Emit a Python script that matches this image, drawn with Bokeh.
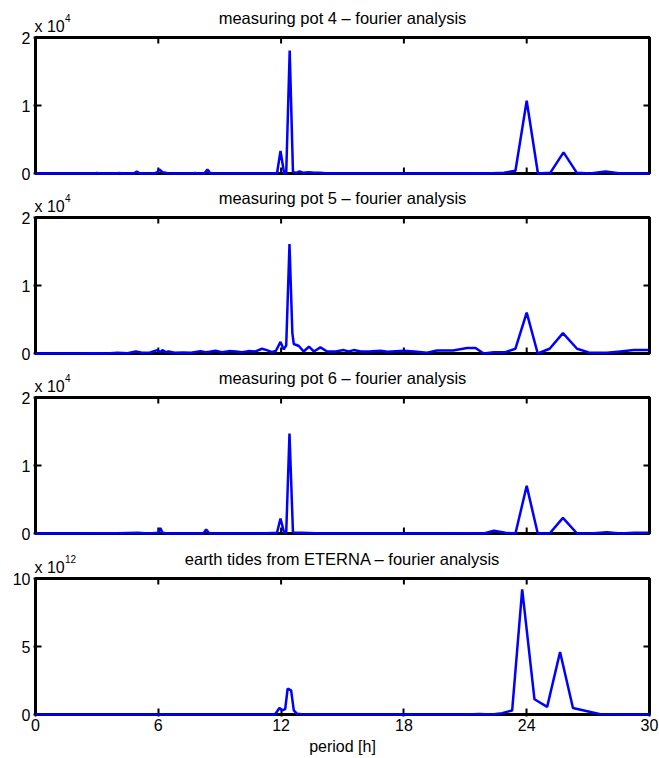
from bokeh.plotting import figure
from bokeh.layouts import column
from bokeh.models import LinearAxis, FixedTicker, Label, Range1d, BoxAnnotation
from bokeh.embed import file_html
from bokeh.resources import INLINE

FONT = "Liberation Sans"

# ---------------- data (period in hours, amplitude in displayed units) ----------------
x_pot4 = [0, 1.0, 2.0, 2.9, 3.0, 3.1, 4.0, 4.1, 4.2, 4.8, 4.95, 5.1, 5.8, 5.95, 6.05, 6.2,
          6.35, 6.5, 7.7, 7.8, 7.9, 8.25, 8.4, 8.55, 9.5, 10.5, 11.5, 11.8, 11.97, 12.15,
          12.25, 12.42, 12.58, 12.75, 12.9, 13.1, 13.35, 13.6, 13.9, 14.3, 15, 16, 17, 18,
          19, 20, 21, 22, 22.9, 23.45, 24.0, 24.55, 25.15, 25.8, 26.45, 27.1, 27.85, 28.6,
          29.3, 30]
y_pot4 = [0, 0, 0, 0, 0.01, 0, 0, 0.01, 0, 0, 0.03, 0, 0, 0.02, 0.06, 0.02,
          0.01, 0, 0, 0.01, 0, 0, 0.06, 0, 0, 0, 0, 0, 0.33, 0,
          0, 1.81, 0.02, 0.01, 0.03, 0.01, 0.02, 0.01, 0.01, 0, 0, 0, 0, 0,
          0, 0, 0.005, 0, 0.01, 0.04, 1.07, 0, 0.01, 0.31, 0.01, 0, 0.03, 0,
          0, 0]

x_pot5 = [0, 1, 2, 3.0, 3.5, 4.0, 4.5, 4.9, 5.2, 5.6, 5.95, 6.1, 6.2, 6.35, 6.5, 6.8, 7.2,
          7.6, 8.06, 8.3, 8.5, 8.8, 9.1, 9.45, 9.8, 10.1, 10.4, 10.75, 11.07, 11.3, 11.56,
          11.75, 11.97, 12.13, 12.25, 12.41, 12.55, 12.62, 12.87, 13.1, 13.36, 13.6, 13.92,
          14.25, 14.66, 15.06, 15.3, 15.55, 15.9, 16.3, 16.85, 17.2, 17.99, 18.5, 19.13,
          19.62, 20.4, 21.09, 21.5, 21.9, 22.39, 22.96, 23.45, 24.0, 24.54, 25.12, 25.77,
          26.46, 27.1, 27.93, 28.58, 29.23, 29.96]
y_pot5 = [0, 0, 0, 0.005, 0, 0.01, 0.005, 0.03, 0.01, 0.015, 0.05, 0.02, 0.05, 0.02, 0.03,
          0.01, 0.015, 0.01, 0.035, 0.02, 0.025, 0.04, 0.02, 0.035, 0.03, 0.02, 0.035, 0.03,
          0.07, 0.05, 0.02, 0.04, 0.17, 0.06, 0.12, 1.61, 0.3, 0.14, 0.11, 0.03, 0.1, 0.03,
          0.09, 0.03, 0.03, 0.05, 0.03, 0.05, 0.03, 0.03, 0.04, 0.025, 0.04, 0.03, 0.01,
          0.045, 0.045, 0.08, 0.08, 0.0, 0.02, 0.02, 0.07, 0.6, 0.0, 0.07, 0.3, 0.07, 0.01,
          0.01, 0.03, 0.05, 0.05]

x_pot6 = [0, 2, 3.0, 4.0, 5.0, 5.5, 6.0, 6.1, 6.2, 6.5, 8.2, 8.34, 8.5, 9.5, 11.0, 11.8,
          11.97, 12.15, 12.25, 12.41, 12.58, 13, 14, 16, 18, 20, 21, 21.5, 21.9, 22.4, 22.96,
          23.45, 24.0, 24.54, 25.12, 25.77, 26.46, 27.1, 27.93, 28.58, 29.23, 29.96]
y_pot6 = [0, 0, 0.005, 0.005, 0.01, 0, 0.01, 0.08, 0.01, 0, 0, 0.06, 0, 0, 0, 0.01,
          0.22, 0.01, 0.01, 1.47, 0.01, 0.01, 0, 0, 0, 0, 0.005, 0.005, 0.0, 0.04, 0.01,
          0.0, 0.7, 0.0, 0.0, 0.23, 0.0, 0.0, 0.02, 0, 0.01, 0.01]

x_eterna = [0, 4, 8, 11.0, 11.7, 11.92, 12.05, 12.2, 12.32, 12.49, 12.62, 12.78, 13.0, 14,
            18, 21, 21.7, 22.3, 22.8, 23.29, 23.78, 24.38, 25.0, 25.63, 26.26, 27.6, 28.5, 30]
y_eterna = [0, 0, 0, 0, 0.0, 0.48, 0.3, 0.4, 1.9, 1.78, 0.3, 0.05, 0.01, 0,
            0, 0, 0.03, 0.0, 0.1, 0.3, 9.2, 1.12, 0.56, 4.6, 0.48, 0.02, 0, 0]

titles = ["measuring pot 4 \u2013 fourier analysis",
          "measuring pot 5 \u2013 fourier analysis",
          "measuring pot 6 \u2013 fourier analysis",
          "earth tides from ETERNA \u2013 fourier analysis"]
exponents = ["4", "4", "4", "12"]
y_ticks = [[0, 1, 2], [0, 1, 2], [0, 1, 2], [0, 5, 10]]
y_max = [2, 2, 2, 10]
x_ticks = [0, 6, 12, 18, 24, 30]
x_label = "period [h]"
series = [(x_pot4, y_pot4), (x_pot5, y_pot5), (x_pot6, y_pot6), (x_eterna, y_eterna)]

# ---------------- layout (pixels) ----------------
BOX_W = 614          # data box width
BOX_H = 136          # data box height
PAD = 2              # frame extends this far beyond the box (left/right/bottom)
TICK = 6             # inward tick length
X_MAX = 30
TOP_SPACE = [37, 33, 33, 34]     # canvas top -> box top (title area lives inside frame)
FIG_H = [184, 180, 180, 214]


def make_panel(i):
    bottom = (i == 3)
    ym = y_max[i]
    px_x = X_MAX / BOX_W
    px_y = ym / BOX_H
    T = TOP_SPACE[i]
    frame_h = T + BOX_H + PAD
    bot_b = FIG_H[i] - frame_h
    p = figure(width=659, height=FIG_H[i],
               x_range=Range1d(-PAD * px_x, X_MAX + PAD * px_x),
               y_range=Range1d(-PAD * px_y, ym + T * px_y),
               x_axis_type=None, y_axis_type=None,
               output_backend="svg", toolbar_location=None,
               min_border_left=35 - PAD, min_border_right=10 - PAD,
               min_border_top=0, min_border_bottom=bot_b)
    p.background_fill_color = "white"
    p.border_fill_color = "white"
    p.outline_line_color = None

    def axis(ticks, standoff):
        return LinearAxis(ticker=FixedTicker(ticks=ticks, minor_ticks=[]),
                          axis_line_color=None,
                          major_tick_in=TICK + PAD, major_tick_out=0,
                          major_tick_line_color="black", major_tick_line_width=2,
                          minor_tick_line_color=None,
                          major_label_text_font=FONT,
                          major_label_text_color="black",
                          major_label_text_font_size="16px",
                          major_label_standoff=standoff)

    nx = len(x_ticks)
    ny = len(y_ticks[i])
    if bottom:
        xb = axis(x_ticks, 2)
        xb.axis_label = x_label
        xb.axis_label_text_font = FONT
        xb.axis_label_text_font_size = "16px"
        xb.axis_label_text_font_style = "normal"
        xb.axis_label_text_color = "black"
        xb.axis_label_standoff = 4
        p.add_layout(xb, "below")
    else:
        # unlabeled inward ticks on the bottom edge of the box
        p.segment(x0=x_ticks, y0=[0] * nx, x1=x_ticks, y1=[TICK * px_y] * nx,
                  line_color="black", line_width=2)
    p.add_layout(axis(y_ticks[i], 3), "left")

    # box around the data area
    box = BoxAnnotation(left=0, right=X_MAX, bottom=0, top=ym,
                        fill_color=None, fill_alpha=0,
                        line_color="black", line_alpha=1.0, line_width=3)
    p.add_layout(box)
    # unlabeled inward ticks on the top and right edges of the box
    p.segment(x0=x_ticks, y0=[ym] * nx, x1=x_ticks, y1=[ym - TICK * px_y] * nx,
              line_color="black", line_width=2)
    p.segment(x0=[X_MAX] * ny, y0=y_ticks[i], x1=[X_MAX - TICK * px_x] * ny, y1=y_ticks[i],
              line_color="black", line_width=2)

    xs, ys = series[i]
    r = p.line(xs, ys, line_color="#0000ff", line_width=2.5)
    r.level = "overlay"

    def lab(x, y, text, size, align):
        p.add_layout(Label(x=x, y=y, text=text, text_align=align,
                           text_baseline="alphabetic", text_font=FONT,
                           text_font_size=size, text_color="black"))

    lab(X_MAX / 2, ym + 20 * px_y, titles[i], "16.5px", "center")
    lab(-1 * px_x, ym + 11 * px_y, "x 10", "16px", "left")
    lab(29.5 * px_x, ym + 19.5 * px_y, exponents[i], "10px", "left")
    return p


panels = [make_panel(i) for i in range(4)]
layout = column(*panels, spacing=0)

with open("out.html", "w") as f:
    f.write(file_html(layout, INLINE))
